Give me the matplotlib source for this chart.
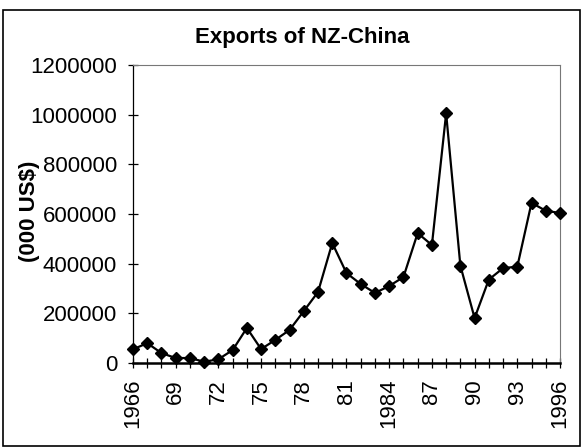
import numpy as np
import matplotlib.pyplot as plt
from matplotlib.patches import Rectangle

plt.rcParams['font.family'] = ['Liberation Sans', 'DejaVu Sans']

# data
years = list(range(1966, 1997))
exports = [55000, 80000, 40000, 20000, 20000, 5000, 15000, 52000, 141000, 56000,
           93000, 133000, 209000, 286000, 483000, 362000, 318000, 282000, 310000, 346000,
           523000, 475000, 1005000, 392000, 181000, 336000, 382000, 388000, 645000, 613000,
           604000]
tick_years = [1966, 1969, 1972, 1975, 1978, 1981, 1984, 1987, 1990, 1993, 1996]
tick_labels = ['1966', '69', '72', '75', '78', '81', '1984', '87', '90', '93', '1996']

fig = plt.figure(figsize=(5.84, 4.48), dpi=100)
ax = fig.add_axes([133 / 584, 85 / 448, 427 / 584, 298 / 448])

ax.plot(years, exports, color='black', lw=1.6, marker='D', markersize=6.3,
        markerfacecolor='black', markeredgecolor='black', clip_on=False, zorder=3)

ax.set_xlim(1966, 1996)
ax.set_ylim(0, 1200000)
ax.set_yticks(np.arange(0, 1200001, 200000))
ax.set_yticklabels([str(v) for v in range(0, 1200001, 200000)])
ax.set_xticks(tick_years)
ax.set_xticklabels(tick_labels, rotation=90)
ax.set_xticks(years, minor=True)

ax.tick_params(axis='both', direction='inout', length=7, width=0.9, labelsize=16, colors='black')
ax.tick_params(axis='x', which='minor', direction='inout', length=7, width=0.9)
ax.tick_params(axis='x', pad=8)
ax.tick_params(axis='y', pad=8)

ax.spines['bottom'].set_linewidth(1.8)
ax.spines['left'].set_linewidth(0.9)
ax.spines['top'].set_color('#777777')
ax.spines['right'].set_color('#777777')
ax.spines['top'].set_linewidth(0.8)
ax.spines['right'].set_linewidth(0.8)

ax.set_ylabel('(000 US$)', fontsize=16, fontweight='bold')
ax.yaxis.set_label_coords(-0.218, 0.51)
fig.text(302 / 584, 1 - 37 / 448, 'Exports of NZ-China', ha='center', va='center',
         fontsize=16, fontweight='bold')

# outer chart frame
fig.patches.append(Rectangle((3 / 584, 0.004), 577 / 584, 1 - 10 / 448 - 0.004,
                             transform=fig.transFigure, fill=False, edgecolor='black', lw=1.2))

fig.savefig('out.png', dpi=100)
